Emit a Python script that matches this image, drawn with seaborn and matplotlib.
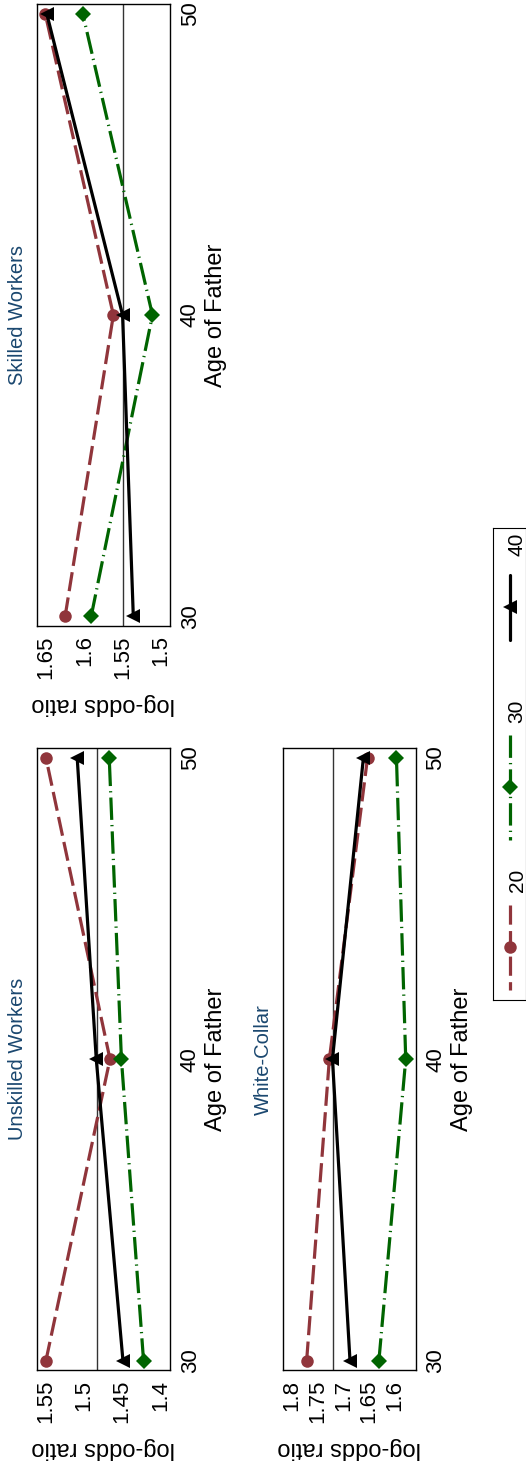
import matplotlib
matplotlib.use("Agg")
import matplotlib.pyplot as plt
import seaborn as sns
import pandas as pd

# age of father (x axis of the original graph) and birth cohorts
ages = [30, 40, 50]
cohorts = ["20", "30", "40"]

# log-odds ratios
unskilled_20 = [1.550, 1.466, 1.550]
unskilled_30 = [1.422, 1.451, 1.467]
unskilled_40 = [1.449, 1.484, 1.509]

skilled_20 = [1.625, 1.562, 1.651]
skilled_30 = [1.591, 1.511, 1.602]
skilled_40 = [1.536, 1.550, 1.649]

white_20 = [1.771, 1.727, 1.653]
white_30 = [1.631, 1.579, 1.597]
white_40 = [1.687, 1.721, 1.661]

# reference (overall) lines
unskilled_ref = 1.483
skilled_ref = 1.550
white_ref = 1.7205

unskilled_ticks = [1.55, 1.5, 1.45, 1.4]
skilled_ticks = [1.65, 1.6, 1.55, 1.5]
white_ticks = [1.8, 1.75, 1.7, 1.65, 1.6]

rows = []
for panel, series in [("Unskilled Workers", [unskilled_20, unskilled_30, unskilled_40]),
                      ("Skilled Workers", [skilled_20, skilled_30, skilled_40]),
                      ("White-Collar", [white_20, white_30, white_40])]:
    for c, vals in zip(cohorts, series):
        for a, v in zip(ages, vals):
            rows.append({"panel": panel, "cohort": c, "age": a, "logodds": v})
df = pd.DataFrame(rows)

sns.set_style("white")
plt.rcParams["font.family"] = ["Liberation Sans", "DejaVu Sans"]
plt.rcParams["text.color"] = "black"
plt.rcParams["axes.labelcolor"] = "black"
plt.rcParams["xtick.color"] = "black"
plt.rcParams["ytick.color"] = "black"

palette = {"20": "#90353b", "30": "#006400", "40": "#000000"}
markers = {"20": "o", "30": "D", "40": "<"}
dashes = {"20": (6, 2), "30": (7, 1.6, 0.4, 1.6), "40": ""}
msizes = {"o": 9, "D": 8.5, "<": 10}
title_color = "#1a476f"

W, H = 526, 1468
fig = plt.figure(figsize=(W / 100, H / 100), dpi=100)


def px_axes(x0, y0, x1, y1):
    return fig.add_axes([x0 / W, 1 - y1 / H, (x1 - x0) / W, (y1 - y0) / H])


def draw_panel(ax, panel, ticks, xlim, ref):
    ax.axvline(ref, color="#333333", lw=1.0, zorder=1)
    sns.lineplot(data=df[df["panel"] == panel], x="logodds", y="age", hue="cohort",
                 style="cohort", palette=palette, markers=markers, dashes=dashes,
                 orient="y", estimator=None, lw=2.3, markeredgewidth=0,
                 legend=False, ax=ax)
    for ln in ax.lines:
        m = ln.get_marker()
        if m in msizes:
            ln.set_markersize(msizes[m])
    ax.set_xlim(xlim)
    ax.set_ylim(29.69, 50.31)
    ax.set_xticks(ticks)
    ax.set_xticklabels([f"{t:g}" for t in ticks], rotation=90, fontsize=16)
    ax.set_yticks(ages)
    ax.set_yticklabels([str(a) for a in ages], rotation=90, va="center", fontsize=16)
    ax.yaxis.tick_right()
    ax.yaxis.set_label_position("right")
    ax.tick_params(axis="y", length=0, pad=7)
    ax.tick_params(axis="x", length=5, width=1, pad=2, color="black")
    ax.set_ylabel("Age of Father", fontsize=17, labelpad=3)
    ax.set_xlabel("log-odds ratio", fontsize=17, rotation=180, labelpad=10)
    for s in ax.spines.values():
        s.set_color("black")
        s.set_linewidth(1.0)
    ax.text(-0.075, 0.5, panel, transform=ax.transAxes, rotation=90,
            ha="right", va="center", color=title_color, fontsize=14.5)


ax_sk = px_axes(36.7, 4.3, 170, 625.7)
draw_panel(ax_sk, "Skilled Workers", skilled_ticks, (1.6621, 1.4881), skilled_ref)

ax_un = px_axes(36.7, 748.3, 170, 1370)
draw_panel(ax_un, "Unskilled Workers", unskilled_ticks, (1.5621, 1.3873), unskilled_ref)

ax_wc = px_axes(282.7, 748.3, 415.7, 1370)
draw_panel(ax_wc, "White-Collar", white_ticks, (1.8174, 1.5597), white_ref)

# legend, drawn rotated like the rest of the graph
leg = px_axes(493, 528, 526, 1000)
leg.set_xlim(493, 526)
leg.set_ylim(1000, 528)
leg.set_xticks([])
leg.set_yticks([])
for s in leg.spines.values():
    s.set_color("black")
    s.set_linewidth(0.8)
key_spans = {"20": (905, 990), "30": (735, 840), "40": (575, 640)}
label_pos = {"20": 880, "30": 711, "40": 544}
for c in cohorts:
    y0, y1 = key_spans[c]
    ln, = leg.plot([510, 510], [y0, y1], color=palette[c], lw=2.3)
    if dashes[c]:
        ln.set_dashes(dashes[c])
    leg.plot([510], [(y0 + y1) / 2], marker=markers[c], color=palette[c],
             markersize=msizes[markers[c]], markeredgewidth=0)
    leg.text(517, label_pos[c], c, rotation=90, ha="center", va="center", fontsize=15)

fig.savefig("out.png", dpi=100)
